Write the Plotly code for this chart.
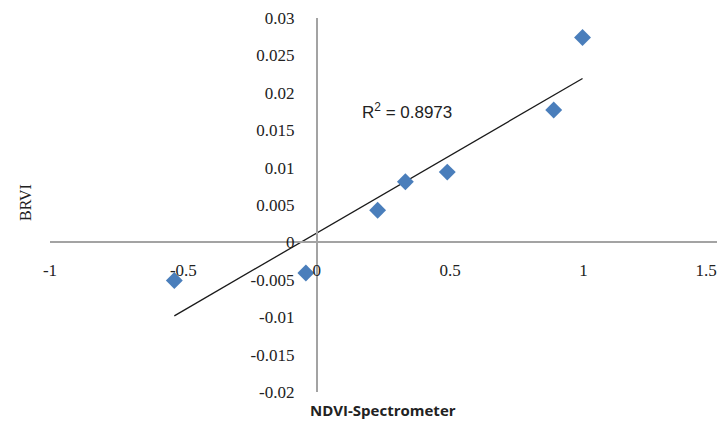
import numpy as np
import plotly.graph_objects as go

# Data
ndvi = [-0.534, -0.041, 0.228, 0.332, 0.489, 0.888, 0.996]
brvi = [-0.0051, -0.0041, 0.0043, 0.0081, 0.0094, 0.0177, 0.0274]

x_tickvals = [-1, -0.5, 0, 0.5, 1]
x_ticktext = ["-1", "-0.5", "0", "0.5", "1"]
x_edge_tickvals = [1.5]          # last tick, its label is pulled inside the edge
x_edge_ticktext = ["1.5"]
y_tickvals = [0.03, 0.025, 0.02, 0.015, 0.01, 0.005, 0, -0.005, -0.01, -0.015, -0.02]
y_ticktext = ["0.03", "0.025", "0.02", "0.015", "0.01", "0.005", "0", "-0.005", "-0.01", "-0.015", "-0.02"]

r2_label = "R<sup>2</sup> = 0.8973"
x_title = "NDVI-Spectrometer"
y_title = "BRVI"

x_range = [-1, 1.5]
y_range = [-0.02, 0.03]

# Linear trendline (least squares) spanning the data range
slope, intercept = np.polyfit(ndvi, brvi, 1)
tx = [min(ndvi), max(ndvi)]
ty = [slope * v + intercept for v in tx]

fig = go.Figure()
fig.add_trace(go.Scatter(
    x=tx, y=ty, mode="lines",
    line=dict(color="#1a1a1a", width=1.3),
    hoverinfo="skip", showlegend=False,
))
fig.add_trace(go.Scatter(
    x=ndvi, y=brvi, mode="markers",
    marker=dict(symbol="diamond", size=13, color="#4A7EBB", line=dict(width=0)),
    showlegend=False,
))
# invisible trace so the overlay axis is rendered
fig.add_trace(go.Scatter(
    x=[x_range[0]], y=[y_range[0]], xaxis="x2", mode="markers",
    marker=dict(opacity=0), hoverinfo="skip", showlegend=False,
))

serif = "Liberation Serif"
axis_col = "#A3A3A3"
tick_font = dict(family=serif, size=17, color="#222")

fig.update_layout(
    width=717, height=421,
    margin=dict(l=50, r=0, t=18, b=29, autoexpand=False),
    paper_bgcolor="white", plot_bgcolor="white",
    xaxis=dict(
        range=x_range, domain=[0, 1],
        anchor="free", position=0.4, automargin=False,
        showline=True, linecolor=axis_col, linewidth=2,
        showgrid=False, zeroline=False,
        tickvals=x_tickvals, ticktext=x_ticktext,
        ticks="outside", ticklen=12, tickcolor="rgba(0,0,0,0)",
        tickfont=tick_font,
    ),
    xaxis2=dict(
        range=x_range, domain=[0, 1], overlaying="x", side="bottom",
        anchor="free", position=0.4, automargin=False,
        showline=False, showgrid=False, zeroline=False,
        tickvals=x_edge_tickvals, ticktext=x_edge_ticktext,
        ticks="outside", ticklen=12, tickcolor="rgba(0,0,0,0)",
        ticklabelshift=-11, ticklabeloverflow="allow",
        tickfont=tick_font,
    ),
    yaxis=dict(
        range=y_range, domain=[0, 1],
        anchor="free", position=0.4, automargin=False,
        showline=True, linecolor=axis_col, linewidth=2,
        showgrid=False, zeroline=False,
        tickvals=y_tickvals, ticktext=y_ticktext,
        ticks="outside", ticklen=18, tickcolor="rgba(0,0,0,0)",
        tickfont=tick_font,
    ),
    annotations=[
        dict(x=0.162, y=0.01757, xref="x", yref="y", text=r2_label,
             showarrow=False, xanchor="left", yanchor="middle",
             font=dict(family="Liberation Sans", size=17, color="#222")),
        dict(x=-0.0375, y=0.508, xref="paper", yref="paper", text=y_title,
             showarrow=False, textangle=-90, xanchor="center", yanchor="middle",
             font=dict(family=serif, size=16, color="#222")),
        dict(x=0.499, y=-0.048, xref="paper", yref="paper", text="<b>" + x_title + "</b>",
             showarrow=False, xanchor="center", yanchor="middle",
             font=dict(family="Open Sans", size=15, color="#222")),
    ],
)

fig.write_html("out.html")
